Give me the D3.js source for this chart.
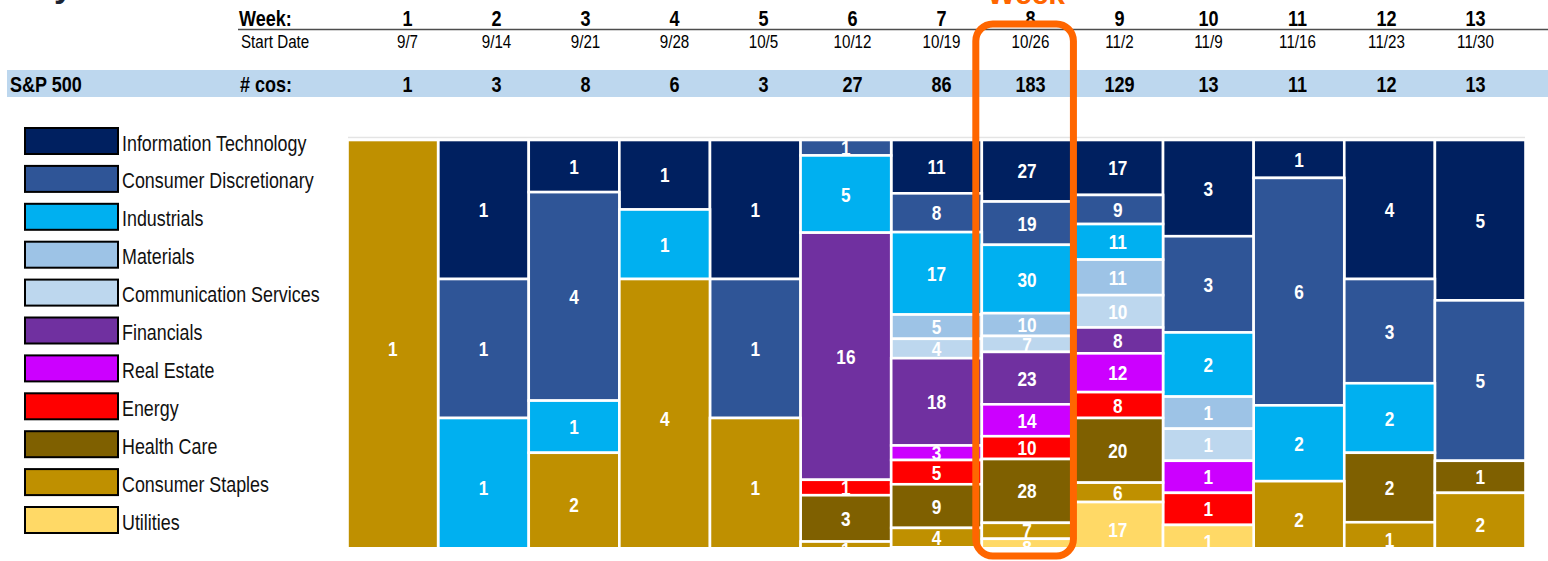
<!DOCTYPE html>
<html lang="en">
<head>
    <meta charset="UTF-8">
    <title>S&amp;P 500 reporting by week and sector</title>
    <style>
        body { margin: 0; background: #fff; }
        svg { display: block; }
    </style>
</head>
<body>
    <div id="chart"></div>

    <script src="https://cdn.jsdelivr.net/npm/d3@7"></script>
    <script>
        // data
        const weeks = ["1", "2", "3", "4", "5", "6", "7", "8", "9", "10", "11", "12", "13"];
        const startDates = ["9/7", "9/14", "9/21", "9/28", "10/5", "10/12", "10/19", "10/26", "11/2", "11/9", "11/16", "11/23", "11/30"];
        const companyCounts = [1, 3, 8, 6, 3, 27, 86, 183, 129, 13, 11, 12, 13];

        const sectors = ["Information Technology", "Consumer Discretionary", "Industrials", "Materials",
            "Communication Services", "Financials", "Real Estate", "Energy", "Health Care",
            "Consumer Staples", "Utilities"];
        const sectorColors = ["#002060", "#2F5597", "#00B0F0", "#9DC3E6", "#BDD7EE", "#7030A0",
            "#CC00FF", "#FF0000", "#7F6000", "#BF9000", "#FFD966"];

        const infoTech     = [0, 1, 1, 1, 1, 0, 11, 27, 17, 3, 1, 4, 5];
        const consDisc     = [0, 1, 4, 0, 1, 1, 8, 19, 9, 3, 6, 3, 5];
        const industrials  = [0, 1, 1, 1, 0, 5, 17, 30, 11, 2, 2, 2, 0];
        const materials    = [0, 0, 0, 0, 0, 0, 5, 10, 11, 1, 0, 0, 0];
        const commServices = [0, 0, 0, 0, 0, 0, 4, 7, 10, 1, 0, 0, 0];
        const financials   = [0, 0, 0, 0, 0, 16, 18, 23, 8, 0, 0, 0, 0];
        const realEstate   = [0, 0, 0, 0, 0, 0, 3, 14, 12, 1, 0, 0, 0];
        const energy       = [0, 0, 0, 0, 0, 1, 5, 10, 8, 1, 0, 0, 0];
        const healthCare   = [0, 0, 0, 0, 0, 3, 9, 28, 20, 0, 0, 2, 1];
        const consStaples  = [1, 0, 2, 4, 1, 1, 4, 7, 6, 0, 2, 1, 2];
        const utilities    = [0, 0, 0, 0, 0, 0, 2, 8, 17, 1, 0, 0, 0];

        const sectorValues = [infoTech, consDisc, industrials, materials, commServices, financials,
            realEstate, energy, healthCare, consStaples, utilities];

        const peakWeek = "8";

        const width = 1548;
        const height = 561;
        const FONT = '"Liberation Sans", Arial, sans-serif';
        const SQUEEZE = 0.82; // no narrow face installed, so squeeze Arial-metric text

        const svg = d3.select("#chart").append("svg")
            .attr("width", width)
            .attr("height", height);

        // places a text at (px, py) squeezed horizontally
        function narrow(sel, px, py) {
            return sel.attr("x", 0).attr("y", 0)
                .attr("transform", (d, i) => {
                    const tx = typeof px === "function" ? px(d, i) : px;
                    const ty = typeof py === "function" ? py(d, i) : py;
                    return `translate(${tx},${ty}) scale(${SQUEEZE},1)`;
                });
        }

        // table rows of weeks are wider spaced than the columns below
        const headerX = d3.scalePoint().domain(weeks).range([407.5, 1475.5]);
        const x = d3.scaleBand().domain(weeks).range([347.5, 1525.5]).padding(0);
        const colour = d3.scaleOrdinal().domain(sectors).range(sectorColors);

        // cut off title above the picture
        svg.append("text")
            .attr("x", 54).attr("y", -3)
            .attr("font-family", FONT)
            .attr("font-weight", "bold").attr("font-size", 34)
            .attr("fill", "#1c2433")
            .text("y");

        // S&P 500 band
        svg.append("rect")
            .attr("x", 7).attr("y", 70)
            .attr("width", width - 7).attr("height", 27)
            .attr("fill", "#BDD7EE");

        // rule under the week row
        svg.append("line")
            .attr("x1", 238).attr("x2", width)
            .attr("y1", 29.5).attr("y2", 29.5)
            .attr("stroke", "#4d4d4d").attr("stroke-width", 1.6);

        const header = svg.append("g").attr("font-family", FONT).attr("fill", "#000");

        narrow(header.append("text"), 239, 26)
            .attr("font-weight", "bold").attr("font-size", 22).text("Week:");
        narrow(header.append("text"), 241, 48)
            .attr("font-size", 18.5).text("Start Date");
        narrow(header.append("text"), 10, 92)
            .attr("font-weight", "bold").attr("font-size", 22).text("S&P 500");
        narrow(header.append("text"), 240, 92)
            .attr("font-weight", "bold").attr("font-size", 22).text("# cos:");

        narrow(header.selectAll(".wk").data(weeks).join("text").attr("class", "wk"),
                d => headerX(d), 26)
            .attr("text-anchor", "middle")
            .attr("font-weight", "bold").attr("font-size", 22)
            .text(d => d);

        narrow(header.selectAll(".sd").data(startDates).join("text").attr("class", "sd"),
                (d, i) => headerX(weeks[i]), 48)
            .attr("text-anchor", "middle")
            .attr("font-size", 18.5)
            .text(d => d);

        narrow(header.selectAll(".cnt").data(companyCounts).join("text").attr("class", "cnt"),
                (d, i) => headerX(weeks[i]), 92)
            .attr("text-anchor", "middle")
            .attr("font-weight", "bold").attr("font-size", 22)
            .text(d => d);

        // legend
        const legend = svg.append("g");
        const legendItem = legend.selectAll("g").data(sectors).join("g")
            .attr("transform", (d, i) => `translate(25, ${128 + i * 37.9})`);
        legendItem.append("rect")
            .attr("width", 93).attr("height", 26)
            .attr("fill", d => colour(d))
            .attr("stroke", "#000").attr("stroke-width", 2);
        narrow(legendItem.append("text"), 97, 22.5)
            .attr("font-family", FONT).attr("font-size", 21.8)
            .attr("fill", "#111")
            .text(d => d);

        // stacked 100% columns
        const table = weeks.map((w, i) => {
            const row = { week: w };
            sectors.forEach((s, j) => { row[s] = sectorValues[j][i]; });
            return row;
        });
        const totals = weeks.map((w, i) => d3.sum(sectorValues, v => v[i]));

        const stacked = d3.stack().keys(sectors)(table);

        // one scale per column: share of the week's total, bottom runs past the clip
        const yFor = i => d3.scaleLinear().domain([0, totals[i]]).range([140, 557]);

        svg.append("clipPath").attr("id", "plot-clip")
            .append("rect").attr("x", 340).attr("y", 130).attr("width", 1200).attr("height", 417);

        const plot = svg.append("g").attr("clip-path", "url(#plot-clip)");

        plot.append("line")
            .attr("x1", 348).attr("x2", 1525)
            .attr("y1", 137.5).attr("y2", 137.5)
            .attr("stroke", "#e4e4e4").attr("stroke-width", 1.5);

        const segments = [];
        stacked.forEach(layer => {
            layer.forEach((d, i) => {
                if (d[1] - d[0] > 0) {
                    segments.push({ sector: layer.key, week: weeks[i], y0: d[0], y1: d[1], value: d[1] - d[0], col: i });
                }
            });
        });

        plot.selectAll(".seg").data(segments).join("rect")
            .attr("class", "seg")
            .attr("x", d => x(d.week))
            .attr("width", x.bandwidth())
            .attr("y", d => yFor(d.col)(d.y0))
            .attr("height", d => yFor(d.col)(d.y1) - yFor(d.col)(d.y0))
            .attr("fill", d => colour(d.sector))
            .attr("stroke", "#fff").attr("stroke-width", 2.6);

        narrow(plot.selectAll(".lbl").data(segments).join("text").attr("class", "lbl"),
                d => x(d.week) + x.bandwidth() / 2,
                d => (yFor(d.col)(d.y0) + yFor(d.col)(d.y1)) / 2)
            .attr("dy", "0.36em")
            .attr("text-anchor", "middle")
            .attr("font-family", FONT).attr("font-weight", "bold").attr("font-size", 21)
            .attr("fill", "#fff")
            .text(d => d.value);

        // peak week highlight
        const peakX = x(peakWeek);
        svg.append("rect")
            .attr("x", peakX - 6).attr("y", 24)
            .attr("width", x.bandwidth() + 7).attr("height", 532)
            .attr("rx", 17).attr("ry", 17)
            .attr("fill", "none")
            .attr("stroke", "#FF6600").attr("stroke-width", 7);

        svg.append("text")
            .attr("x", peakX + x.bandwidth() / 2 - 1).attr("y", 4)
            .attr("text-anchor", "middle")
            .attr("font-family", FONT)
            .attr("font-weight", "bold").attr("font-size", 30)
            .attr("fill", "#FF6600")
            .text("Week");
    </script>
</body>
</html>
